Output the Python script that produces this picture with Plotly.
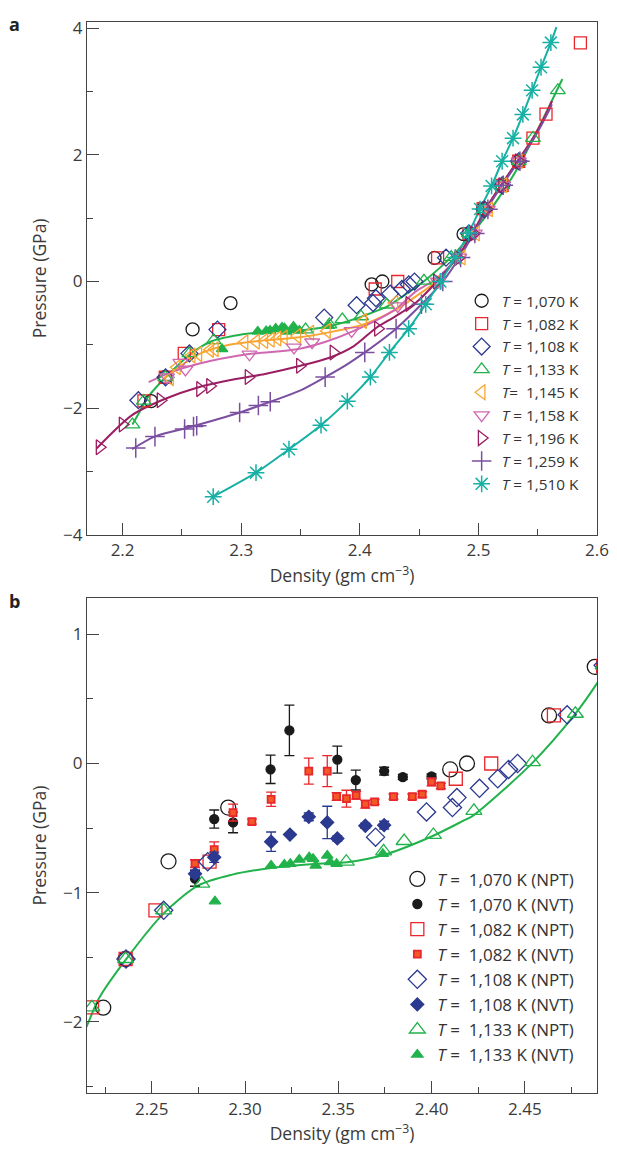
import plotly.graph_objects as go

# ---------------- data: panel a / shared NPT series ----------------
t1070_x = [2.224, 2.236, 2.259, 2.291, 2.410, 2.419, 2.463, 2.4875, 2.504, 2.520, 2.534]
t1070_y = [-1.89, -1.513, -0.757, -0.341, -0.046, 0.0, 0.372, 0.748, 1.15, 1.52, 1.90]

t1082_x = [2.218, 2.236, 2.252, 2.281, 2.413, 2.432, 2.4656, 2.492, 2.504, 2.520, 2.534, 2.546, 2.557, 2.586]
t1082_y = [-1.887, -1.513, -1.136, -0.76, -0.118, 0.0, 0.372, 0.755, 1.15, 1.52, 1.90, 2.265, 2.645, 3.77]

t1108_x = [2.2133, 2.2362, 2.2564, 2.280, 2.370, 2.3973, 2.4112, 2.4136, 2.4257, 2.4355, 2.4413, 2.4461, 2.4727, 2.492, 2.505, 2.520, 2.534]
t1108_y = [-1.875, -1.513, -1.136, -0.76, -0.57, -0.375, -0.341, -0.264, -0.192, -0.118, -0.046, 0.0, 0.377, 0.76, 1.14, 1.52, 1.90]

t1133_x = [2.2083, 2.2179, 2.236, 2.2564, 2.2768, 2.3543, 2.3743, 2.3853, 2.4010, 2.4227, 2.4541, 2.4771, 2.492, 2.505, 2.520, 2.534, 2.546, 2.567]
t1133_y = [-2.26, -1.887, -1.513, -1.136, -0.93, -0.76, -0.68, -0.60, -0.553, -0.367, 0.01, 0.385, 0.76, 1.14, 1.52, 1.90, 2.265, 3.02]

t1145_x = [2.240, 2.2458, 2.2583, 2.2639, 2.2737, 2.2778, 2.3028, 2.3125, 2.3195, 2.325, 2.3306, 2.336, 2.3473, 2.3583, 2.3723, 2.4028, 2.4292, 2.466, 2.486, 2.498, 2.509, 2.521, 2.534]
t1145_y = [-1.53, -1.355, -1.17, -1.147, -1.08, -1.07, -0.96, -0.95, -0.94, -0.92, -0.90, -0.886, -0.86, -0.81, -0.78, -0.625, -0.34, 0.0, 0.38, 0.76, 1.14, 1.52, 1.90]

t1158_x = [2.2375, 2.2487, 2.2530, 2.307, 2.3445, 2.3598, 2.3931, 2.432, 2.466, 2.484, 2.497, 2.508, 2.521, 2.534]
t1158_y = [-1.51, -1.28, -1.39, -1.15, -1.04, -0.96, -0.78, -0.39, 0.0, 0.38, 0.76, 1.14, 1.52, 1.90]

t1196_x = [2.1806, 2.200, 2.232, 2.2653, 2.2737, 2.3062, 2.3495, 2.3778, 2.4153, 2.4417, 2.465, 2.483, 2.496, 2.507, 2.520, 2.534]
t1196_y = [-2.62, -2.26, -1.875, -1.70, -1.65, -1.51, -1.33, -1.12, -0.745, -0.355, 0.0, 0.37, 0.76, 1.14, 1.52, 1.90]

t1259_x = [2.2111, 2.2273, 2.2523, 2.2598, 2.2625, 2.2987, 2.3145, 2.3245, 2.3708, 2.4042, 2.4306, 2.452, 2.470, 2.485, 2.497, 2.508, 2.521, 2.535]
t1259_y = [-2.63, -2.45, -2.33, -2.29, -2.28, -2.07, -1.96, -1.90, -1.51, -1.12, -0.745, -0.36, 0.0, 0.38, 0.76, 1.14, 1.52, 1.90]

t1510_x = [2.2764, 2.3125, 2.3403, 2.3673, 2.3895, 2.4089, 2.425, 2.4412, 2.4556, 2.468, 2.4806, 2.4917, 2.5014, 2.5111, 2.52, 2.5292, 2.5375, 2.5453, 2.5528, 2.5611]
t1510_y = [-3.40, -3.02, -2.65, -2.27, -1.89, -1.51, -1.12, -0.745, -0.36, 0.0, 0.38, 0.765, 1.145, 1.51, 1.9, 2.265, 2.64, 3.02, 3.385, 3.775]

# fitted curves
fit1133_x = [2.2083, 2.2157, 2.2218, 2.236, 2.2564, 2.275, 2.2927, 2.314, 2.337, 2.3548, 2.376, 2.4009, 2.4169, 2.4221, 2.4541, 2.4771, 2.4887, 2.505, 2.52, 2.534, 2.55, 2.5708]
fit1133_y = [-2.26, -2.015, -1.815, -1.52, -1.16, -0.944, -0.862, -0.808, -0.777, -0.764, -0.70, -0.559, -0.444, -0.405, 0.005, 0.385, 0.62, 1.0, 1.4, 1.82, 2.4, 3.2]
fit1145_x = [2.235, 2.25, 2.264, 2.29, 2.32, 2.347, 2.375, 2.403, 2.43, 2.45, 2.468, 2.482, 2.495, 2.506, 2.519, 2.533, 2.546, 2.557, 2.562]
fit1145_y = [-1.53, -1.32, -1.15, -1.0, -0.93, -0.886, -0.80, -0.68, -0.45, -0.2, 0.05, 0.38, 0.76, 1.14, 1.52, 1.9, 2.265, 2.645, 2.85]
fit1158_x = [2.222, 2.24, 2.264, 2.305, 2.347, 2.37, 2.395, 2.43, 2.447, 2.465, 2.482, 2.495, 2.506, 2.519, 2.533, 2.546, 2.557, 2.562]
fit1158_y = [-1.59, -1.44, -1.30, -1.15, -1.07, -0.96, -0.78, -0.44, -0.16, 0.05, 0.38, 0.76, 1.14, 1.52, 1.9, 2.265, 2.645, 2.85]
fit1196_x = [2.178, 2.208, 2.235, 2.264, 2.29, 2.32, 2.35, 2.375, 2.395, 2.414, 2.43, 2.447, 2.465, 2.482, 2.495, 2.506, 2.519, 2.533, 2.546, 2.557, 2.562]
fit1196_y = [-2.64, -2.11, -1.86, -1.67, -1.56, -1.46, -1.33, -1.20, -1.02, -0.73, -0.55, -0.34, 0.0, 0.38, 0.76, 1.14, 1.52, 1.9, 2.265, 2.645, 2.85]
fit1259_x = [2.208, 2.227, 2.255, 2.2987, 2.3245, 2.35, 2.3708, 2.39, 2.4042, 2.4306, 2.452, 2.47, 2.484, 2.496, 2.507, 2.52, 2.534, 2.547, 2.558, 2.562]
fit1259_y = [-2.65, -2.45, -2.31, -2.07, -1.90, -1.72, -1.51, -1.30, -1.12, -0.745, -0.36, 0.0, 0.38, 0.76, 1.14, 1.52, 1.9, 2.265, 2.645, 2.8]
fit1510_x = t1510_x + [2.5658]
fit1510_y = t1510_y + [4.02]

# ---------------- data: panel b NVT series ----------------
nvt1070_x = [2.2732, 2.2835, 2.2936, 2.3137, 2.3238, 2.3495, 2.3594, 2.3746, 2.3846, 2.4000]
nvt1070_y = [-0.89, -0.43, -0.456, -0.045, 0.256, 0.03, -0.128, -0.059, -0.105, -0.10]
nvt1070_e = [0.06, 0.07, 0.08, 0.11, 0.195, 0.105, 0.077, 0.03, 0.02, 0.02]

nvt1082_x = [2.2732, 2.2835, 2.2936, 2.3037, 2.3140, 2.3342, 2.3441, 2.3491, 2.3544, 2.3596, 2.3645, 2.3695, 2.3796, 2.3897, 2.3950, 2.4000, 2.4050]
nvt1082_y = [-0.775, -0.667, -0.38, -0.45, -0.277, -0.059, -0.059, -0.256, -0.272, -0.246, -0.315, -0.297, -0.256, -0.256, -0.238, -0.143, -0.174]
nvt1082_e = [0.03, 0.06, 0.065, 0.02, 0.055, 0.1, 0.12, 0.03, 0.065, 0.03, 0.03, 0.02, 0.02, 0.02, 0.02, 0.03, 0.02]

nvt1108_x = [2.2732, 2.2835, 2.3140, 2.3241, 2.3342, 2.3441, 2.3495, 2.3645, 2.3746]
nvt1108_y = [-0.854, -0.726, -0.605, -0.55, -0.413, -0.456, -0.58, -0.482, -0.477]
nvt1108_e = [0.03, 0.04, 0.075, 0.01, 0.03, 0.125, 0.02, 0.02, 0.03]

nvt1133_x = [2.2839, 2.3140, 2.3211, 2.3243, 2.3291, 2.3344, 2.3365, 2.3379, 2.3441, 2.3456, 2.3491, 2.3739]
nvt1133_y = [-1.067, -0.79, -0.782, -0.777, -0.744, -0.726, -0.738, -0.79, -0.713, -0.764, -0.777, -0.70]

# axis ranges
xa_range = [2.17, 2.6]
ya_range = [-4, 4.1]
xb_range = [2.2153, 2.4887]
yb_range = [-2.55, 1.28]

# ---------------- styling ----------------
FONT = "Open Sans"
BLACK = "#1a1a1a"
RED = "#e8262c"
BLUE = "#2b3990"
GREEN = "#22b24c"
ORANGE = "#f9a533"
PINK = "#cf68b1"
MAROON = "#9b1d62"
PURPLE = "#7b4fa0"
TEAL = "#16b0a4"

fig = go.Figure()


def line(x, y, color, xa, ya):
    fig.add_trace(go.Scatter(x=x, y=y, mode="lines",
                             line=dict(color=color, width=2, shape="spline", smoothing=0.8),
                             showlegend=False, hoverinfo="skip", xaxis=xa, yaxis=ya))


def pts(x, y, name, symbol, color, size, xa, ya, legend, showlegend=True, fill=None, lw=1.3, err=None, xmin=None):
    if xmin is not None:
        keep = [i for i, v in enumerate(x) if v >= xmin]
        x = [x[i] for i in keep]
        y = [y[i] for i in keep]
        if err:
            err = [err[i] for i in keep]
    fig.add_trace(go.Scatter(
        x=x, y=y, mode="markers", name=name, legend=legend, showlegend=showlegend,
        marker=dict(symbol=symbol, size=size, color=fill if fill else color,
                    line=dict(color=color, width=lw)),
        error_y=dict(type="data", array=err, color=color, thickness=1.3, width=5) if err else None,
        xaxis=xa, yaxis=ya))


# ---- panel a
line(fit1133_x, fit1133_y, GREEN, "x", "y")
line(fit1145_x, fit1145_y, ORANGE, "x", "y")
line(fit1158_x, fit1158_y, PINK, "x", "y")
line(fit1196_x, fit1196_y, MAROON, "x", "y")
line(fit1259_x, fit1259_y, PURPLE, "x", "y")
line(fit1510_x, fit1510_y, TEAL, "x", "y")

T = "<i>T</i>"
pts(t1070_x, t1070_y, f"{T} = 1,070 K", "circle-open", BLACK, 13, "x", "y", "legend")
pts(t1082_x, t1082_y, f"{T} = 1,082 K", "square-open", RED, 12, "x", "y", "legend")
pts(t1108_x, t1108_y, f"{T} = 1,108 K", "diamond-open", BLUE, 13, "x", "y", "legend")
pts(t1133_x, t1133_y, f"{T} = 1,133 K", "triangle-up-open", GREEN, 13, "x", "y", "legend")
pts(nvt1133_x, nvt1133_y, "nvt", "triangle-up", GREEN, 10, "x", "y", "legend", showlegend=False, fill=GREEN)
pts(t1145_x, t1145_y, f"{T}=\u00a0 1,145 K", "triangle-left-open", ORANGE, 13, "x", "y", "legend")
pts(t1158_x, t1158_y, f"{T} = 1,158 K", "triangle-down-open", PINK, 13, "x", "y", "legend")
pts(t1196_x, t1196_y, f"{T} = 1,196 K", "triangle-right-open", MAROON, 13, "x", "y", "legend")
pts(t1259_x, t1259_y, f"{T} = 1,259 K", "cross-thin-open", PURPLE, 14, "x", "y", "legend", lw=1.5)
pts(t1510_x, t1510_y, f"{T} = 1,510 K", "asterisk-open", TEAL, 14, "x", "y", "legend", lw=1.5)

# ---- panel b
m = xb_range[0]
line(fit1133_x, fit1133_y, GREEN, "x2", "y2")
pts(t1070_x, t1070_y, f"{T} =\u00a0 1,070 K (NPT)", "circle-open", BLACK, 15, "x2", "y2", "legend2", xmin=m)
pts(nvt1070_x, nvt1070_y, f"{T} =\u00a0 1,070 K (NVT)", "circle", BLACK, 9, "x2", "y2", "legend2", fill=BLACK, err=nvt1070_e)
pts(t1082_x, t1082_y, f"{T} =\u00a0 1,082 K (NPT)", "square-open", RED, 13, "x2", "y2", "legend2", xmin=m)
pts(nvt1082_x, nvt1082_y, f"{T} =\u00a0 1,082 K (NVT)", "square", RED, 7, "x2", "y2", "legend2", fill="#f15a24", lw=1.8, err=nvt1082_e)
pts(t1108_x, t1108_y, f"{T} =\u00a0 1,108 K (NPT)", "diamond-open", BLUE, 14, "x2", "y2", "legend2", xmin=m)
pts(nvt1108_x, nvt1108_y, f"{T} =\u00a0 1,108 K (NVT)", "diamond", BLUE, 10, "x2", "y2", "legend2", fill=BLUE, err=nvt1108_e)
pts(t1133_x, t1133_y, f"{T} =\u00a0 1,133 K (NPT)", "triangle-up-open", GREEN, 14, "x2", "y2", "legend2", xmin=m)
pts(nvt1133_x, nvt1133_y, f"{T} =\u00a0 1,133 K (NVT)", "triangle-up", GREEN, 10, "x2", "y2", "legend2", fill=GREEN)

axis_common = dict(
    showline=True, linecolor="#444", linewidth=1.3, mirror=True,
    ticks="inside", ticklen=12, tickwidth=1.2, tickcolor="#444",
    tickfont=dict(family=FONT, size=17, color="#3a3a3a"),
    showgrid=False, zeroline=False,
    title_font=dict(family=FONT, size=17.5, color="#3a3a3a"),
)
minor = dict(ticks="inside", ticklen=6, tickwidth=1.2, tickcolor="#444", showgrid=False)

# page body has an 8px margin: figure is 609x1141 so the plot sits where the reference has it
fig.update_layout(
    width=609, height=1141,
    margin=dict(l=79, r=14, t=8, b=51),
    paper_bgcolor="white", plot_bgcolor="white",
    font=dict(family=FONT, color="#333"),
    xaxis=dict(domain=[0, 1], anchor="y", range=xa_range, tick0=2.2, dtick=0.1, tickformat=".1f",
               minor=dict(dtick=0.05, **minor), title=dict(text="Density (gm cm<sup>−3</sup>)", standoff=9), **axis_common),
    yaxis=dict(domain=[0.5213, 1], anchor="x", range=ya_range, tick0=0, dtick=2,
               minor=dict(dtick=1, **minor), title=dict(text="Pressure (GPa)", standoff=11), **axis_common),
    xaxis2=dict(domain=[0, 1], anchor="y2", range=xb_range, tick0=2.25, dtick=0.05, tickformat=".2f",
                minor=dict(dtick=0.025, **minor), title=dict(text="Density (gm cm<sup>−3</sup>)", standoff=9), **axis_common),
    yaxis2=dict(domain=[0, 0.4621], anchor="x2", range=yb_range, tick0=0, dtick=1,
                minor=dict(dtick=0.5, **minor), title=dict(text="Pressure (GPa)", standoff=11), **axis_common),
    legend=dict(x=0.7346, y=0.7551, xanchor="left", yanchor="top", bgcolor="rgba(0,0,0,0)",
                font=dict(family=FONT, size=15.3, color="#333"), traceorder="normal"),
    legend2=dict(x=0.6085, y=0.2163, xanchor="left", yanchor="top", bgcolor="rgba(0,0,0,0)",
                 font=dict(family=FONT, size=17, color="#333"), traceorder="normal"),
    annotations=[
        dict(text="<b>a</b>", x=-0.1415, y=0.9982, xref="paper", yref="paper", showarrow=False,
             font=dict(family=FONT, size=18, color="#222"), xanchor="center", yanchor="middle"),
        dict(text="<b>b</b>", x=-0.1415, y=0.4593, xref="paper", yref="paper", showarrow=False,
             font=dict(family=FONT, size=18, color="#222"), xanchor="center", yanchor="middle"),
    ],
)

fig.write_html("out.html")
